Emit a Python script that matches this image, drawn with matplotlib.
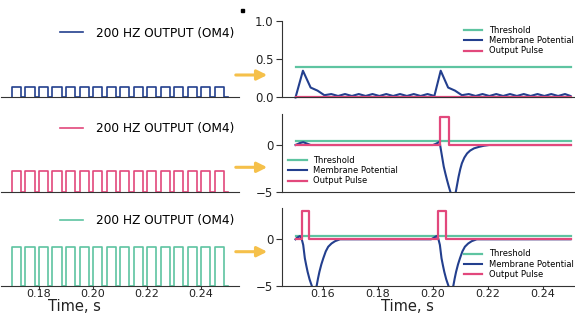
import numpy as np
import matplotlib.pyplot as plt
from matplotlib.patches import FancyArrowPatch, Rectangle

# input pulse train (200 Hz), onset times in s, pulse width in s
pulse_starts = [0.170, 0.175, 0.180, 0.185, 0.190, 0.195, 0.200, 0.205,
                0.210, 0.215, 0.220, 0.225, 0.230, 0.235, 0.240, 0.245]
pulse_width = 0.0034
train_end = 0.25
input_labels = ['200 HZ OUTPUT (OM4)'] * 3

threshold = 0.4
t_start, t_end = 0.15, 0.25

# panel 1 membrane potential
t_mem1 = [0.150, 0.1527, 0.1555, 0.158, 0.1605, 0.163, 0.1655, 0.168, 0.1705,
          0.173, 0.1755, 0.178, 0.1805, 0.183, 0.1855, 0.188, 0.1905, 0.193,
          0.1955, 0.198, 0.2005, 0.2028, 0.2055, 0.208, 0.2105, 0.213, 0.2155,
          0.218, 0.2205, 0.223, 0.2255, 0.228, 0.2305, 0.233, 0.2355, 0.238,
          0.2405, 0.243, 0.2455, 0.248, 0.250]
v_mem1 = [0.0, 0.35, 0.13, 0.09, 0.03, 0.045, 0.02, 0.045, 0.02,
          0.045, 0.02, 0.045, 0.02, 0.045, 0.02, 0.045, 0.02, 0.045,
          0.02, 0.045, 0.02, 0.35, 0.13, 0.09, 0.03, 0.045, 0.02,
          0.045, 0.02, 0.045, 0.02, 0.045, 0.02, 0.045, 0.02, 0.045,
          0.02, 0.045, 0.02, 0.045, 0.02]
out1 = []

# panel 2 membrane potential
t_mem2 = [0.150, 0.1515, 0.1528, 0.1542, 0.1555, 0.2000, 0.2012, 0.2024, 0.2027,
          0.2031, 0.2035, 0.2039, 0.2045, 0.2051, 0.2057, 0.2063, 0.2073, 0.2083,
          0.2088, 0.2093, 0.2099, 0.2105, 0.2114, 0.2124, 0.2135, 0.2149, 0.2167,
          0.2185, 0.2204, 0.250]
v_mem2 = [0.0, 0.2, 0.3, 0.15, 0.0, 0.0, 0.15, 0.35, -0.2,
          -0.9, -1.6, -2.3, -3.05, -3.75, -4.4, -5.0, -5.7, -5.0,
          -4.2, -3.4, -2.6, -1.96, -1.35, -0.9, -0.6, -0.36, -0.2,
          -0.08, 0.0, 0.0]
out2 = [(0.2027, 0.2057)]

# panel 3 membrane potential
t_mem3 = [0.150, 0.1505, 0.1516, 0.1522, 0.1528, 0.1534, 0.1539, 0.1544, 0.1551,
          0.1559, 0.1568, 0.1577, 0.1582, 0.1587, 0.1594, 0.1601, 0.1610, 0.1619,
          0.1631, 0.1644, 0.1662,
          0.1993, 0.2002, 0.2013, 0.2019, 0.2025, 0.2031, 0.2036, 0.2041, 0.2048,
          0.2056, 0.2065, 0.2074, 0.2079, 0.2084, 0.2091, 0.2098, 0.2107, 0.2116,
          0.2128, 0.2141, 0.2159, 0.250]
v_mem3 = [0.0, 0.15, 0.35, 0.1, -0.6, -2.05, -2.8, -3.5, -4.3,
          -5.0, -5.6, -5.0, -4.2, -3.5, -2.7, -2.05, -1.3, -0.8,
          -0.45, -0.2, 0.0,
          0.0, 0.15, 0.35, 0.1, -0.6, -2.05, -2.8, -3.5, -4.3,
          -5.0, -5.6, -5.0, -4.2, -3.5, -2.7, -2.05, -1.3, -0.8,
          -0.45, -0.2, 0.0, 0.0]
out3 = [(0.1522, 0.1550), (0.2019, 0.2049)]
out_height = 3.0

green = '#5ec4a1'
blue = '#233f8e'
pink = '#e2487c'
arrow_col = '#f5c04a'
spine_col = '#333333'

W, H = 575, 323
fig = plt.figure(figsize=(W / 100, H / 100), dpi=100)


def px_box(left, top, right, bottom):
    return [left / W, 1 - bottom / H, (right - left) / W, (bottom - top) / H]


def square_wave(starts, width, end):
    xs, ys = [], []
    for s in starts:
        xs += [s, s, s + width, s + width]
        ys += [0, 1, 1, 0]
    xs.append(end)
    ys.append(0)
    return xs, ys


def pulse_line(pulses, height, t0, t1):
    xs, ys = [t0], [0]
    for a, b in pulses:
        xs += [a, a, b, b]
        ys += [0, height, height, 0]
    xs.append(t1)
    ys.append(0)
    return xs, ys


rows = [(21, 97.5), (114, 191.7), (208.3, 285.7)]
wave_px = [10.4, 21, 38.8]
wave_cols = [blue, pink, green]
left_leg_y = [0.843, 0.816, 0.84]

# left column: input pulse trains
wx, wy = square_wave(pulse_starts, pulse_width, train_end)
for i, (top, bot) in enumerate(rows):
    ax = fig.add_axes(px_box(1.2, top, 238.8, bot))
    ax.plot(wx, wy, color=wave_cols[i], lw=1.2, clip_on=False,
            label=input_labels[i])
    ax.set_ylim(0, (bot - top) / wave_px[i])
    ax.set_xlim(0.166, 0.254)
    for s in ['top', 'right', 'left']:
        ax.spines[s].set_visible(False)
    ax.spines['bottom'].set_color(spine_col)
    ax.spines['bottom'].set_linewidth(0.8)
    ax.set_yticks([])
    ax.patch.set_alpha(0)
    ax.legend(loc='center left', bbox_to_anchor=(0.2475, left_leg_y[i]),
              frameon=False, fontsize=8.7, handlelength=1.9, handletextpad=1.1,
              borderpad=0, borderaxespad=0)
    if i < 2:
        ax.set_xticks([])
    else:
        ax.set_xticks([0.18, 0.20, 0.22, 0.24])
        ax.set_xticklabels(['0.18', '0.20', '0.22', '0.24'])
        ax.tick_params(axis='x', labelsize=8, length=2, pad=0.5,
                       color=spine_col, labelcolor='#222222')
        ax.set_xlabel('Time, s', fontsize=10.5, color='#222222')
        ax.xaxis.set_label_coords(0.31, -0.172)

# right column: responses
mems = [(t_mem1, v_mem1, out1), (t_mem2, v_mem2, out2), (t_mem3, v_mem3, out3)]
ylims = [(0.0, 1.0), (-5, 3.32), (-5, 3.34)]
yticks = [[0.0, 0.5, 1.0], [-5, 0], [-5, 0]]
ylabels = [['0.0', '0.5', '1.0'], ['\u22125', '0'], ['\u22125', '0']]
leg_pos = [(0.603, 0.935), (0.0217, 0.46), (0.603, 0.468)]

for i, (top, bot) in enumerate(rows):
    ax = fig.add_axes(px_box(281.75, top, 584.25, bot))
    t, v, outs = mems[i]
    clip = i > 0
    ax.plot([t_start, t_end], [threshold, threshold], color=green, lw=1.6,
            label='Threshold', clip_on=clip)
    ax.plot(t, v, color=blue, lw=1.5, label='Membrane Potential', clip_on=clip)
    ox, oy = pulse_line(outs, out_height, t_start, t_end)
    ax.plot(ox, oy, color=pink, lw=1.6, label='Output Pulse', clip_on=clip)
    ax.set_xlim(0.145, 0.255)
    ax.set_ylim(*ylims[i])
    ax.set_yticks(yticks[i])
    ax.set_yticklabels(ylabels[i])
    for s in ['top', 'right']:
        ax.spines[s].set_visible(False)
    for s in ['left', 'bottom']:
        ax.spines[s].set_color(spine_col)
        ax.spines[s].set_linewidth(0.8)
    ax.tick_params(axis='y', labelsize=8.5, length=4, pad=2,
                   color=spine_col, labelcolor='#222222')
    ax.patch.set_alpha(0)
    ax.legend(loc='upper left', bbox_to_anchor=leg_pos[i], frameon=False,
              fontsize=6, handlelength=2.2, handletextpad=0.8,
              labelspacing=0.15, borderpad=0, borderaxespad=0)
    if i < 2:
        ax.set_xticks([])
    else:
        ax.set_xticks([0.16, 0.18, 0.20, 0.22, 0.24])
        ax.set_xticklabels(['0.16', '0.18', '0.20', '0.22', '0.24'])
        ax.tick_params(axis='x', labelsize=8, length=2, pad=0.5,
                       color=spine_col, labelcolor='#222222')
        ax.set_xlabel('Time, s', fontsize=10.5, color='#222222')
        ax.xaxis.set_label_coords(0.417, -0.172)

# arrows between the columns
for y in [75, 167.3, 251.7]:
    arr = FancyArrowPatch((233 / W, 1 - y / H), (270 / W, 1 - y / H),
                          transform=fig.transFigure, arrowstyle='-|>',
                          mutation_scale=15, color=arrow_col, lw=2.2)
    fig.patches.append(arr)

fig.patches.append(Rectangle((240.5 / W, 1 - 11.5 / H), 3 / W, 3 / H,
                             transform=fig.transFigure, color='black'))

fig.savefig('out.png', dpi=100)
